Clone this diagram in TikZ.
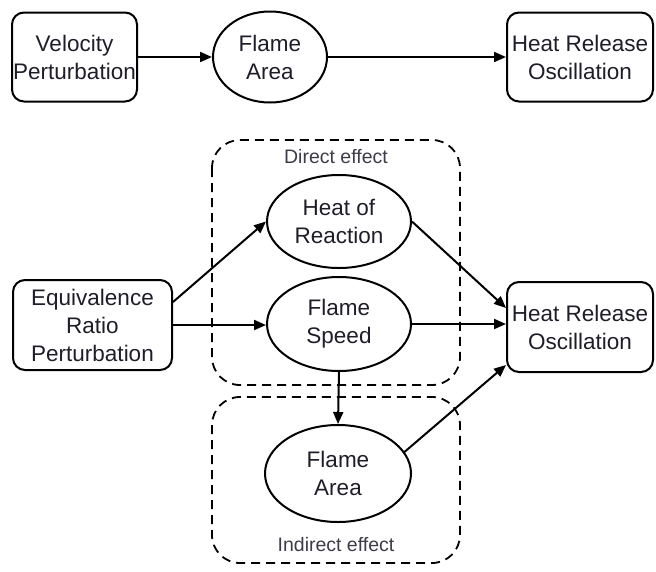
\documentclass[tikz,border=0pt]{standalone}
\usepackage{fontspec}
\setmainfont{Liberation Sans}
\usetikzlibrary{shapes.geometric,arrows.meta}
\definecolor{txt}{HTML}{1E1E28}
\definecolor{lbl}{HTML}{3C3C46}
\tikzset{
  base/.style={draw=black, line width=2pt, text=txt, align=center, inner sep=0pt,
    font=\fontsize{22.5}{28}\selectfont},
  boxnode/.style={base, rectangle, rounded corners=12pt},
  ellnode/.style={base, ellipse},
  arr/.style={line width=2pt, -{Triangle[length=12pt,width=10pt]}},
  grp/.style={draw=black, line width=1.8pt, dash pattern=on 9pt off 6pt, rounded corners=28pt},
  grplabel/.style={text=lbl, font=\fontsize{19.5}{22}\selectfont, inner sep=0pt}
}
\begin{document}
\begin{tikzpicture}[x=1pt,y=-1pt]
\useasboundingbox (0,0) rectangle (656,571);
% top row
\node[boxnode, minimum width=125pt, minimum height=89pt] (vel) at (74.5,57) {Velocity\\Perturbation};
\node[ellnode, minimum width=114pt, minimum height=91pt] (fa1) at (270,57) {Flame\\Area};
\node[boxnode, minimum width=146pt, minimum height=89pt] (hr1) at (580,57) {Heat Release\\Oscillation};
\draw[arr] (vel.east) -- (fa1.west);
\draw[arr] (fa1.east) -- (hr1.west);
% groups
\draw[grp] (212,140) rectangle (460,385);
\draw[grp] (212,397) rectangle (460,563);
\node[grplabel] (dlab) at (336,157) {Direct effect};
\node[grplabel] (ilab) at (336,545) {Indirect effect};
% bottom part
\node[boxnode, minimum width=159pt, minimum height=90pt] (eq) at (92.5,325) {Equivalence\\Ratio\\Perturbation};
\node[ellnode, minimum width=144pt, minimum height=93pt] (hor) at (339,221.5) {Heat of\\Reaction};
\node[ellnode, minimum width=144pt, minimum height=94pt] (fs) at (339,324) {Flame\\Speed};
\node[ellnode, minimum width=146pt, minimum height=97pt] (fa2) at (338,473.5) {Flame\\Area};
\node[boxnode, minimum width=146pt, minimum height=90pt] (hr2) at (580,327) {Heat Release\\Oscillation};
\draw[arr] ([yshift=23pt]eq.east) -- (hor.west);
\draw[arr] (eq.east) -- (eq.east -| fs.west);
\draw[arr] (hor.east) -- ([yshift=19pt]hr2.west);
\draw[arr] (fs.east) -- (fs.east -| hr2.west);
\draw[arr] (fs.south) -- (fa2.north);
\draw[arr] (fa2.18) -- ([yshift=-38pt]hr2.west);
\end{tikzpicture}
\end{document}
